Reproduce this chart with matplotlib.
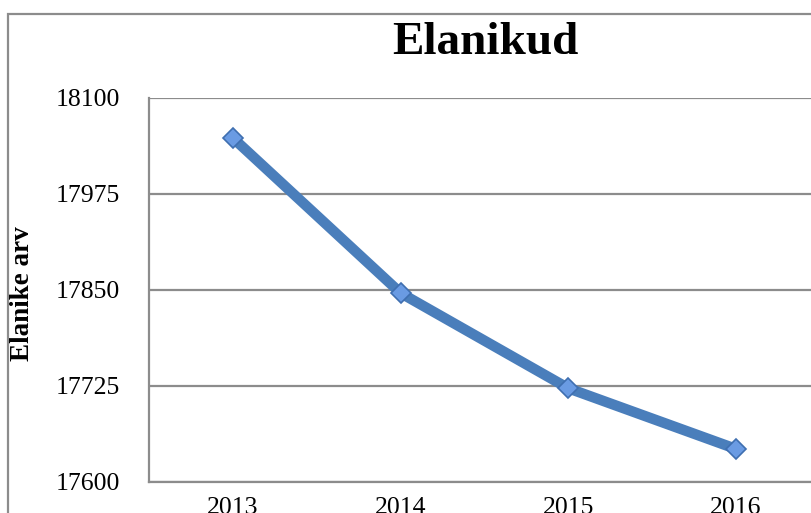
import matplotlib
matplotlib.use("Agg")
import matplotlib.pyplot as plt
from matplotlib.patches import Rectangle

years = ["2013", "2014", "2015", "2016"]
residents = [18048, 17846, 17722, 17643]
y_ticks = [17600, 17725, 17850, 17975, 18100]

plt.rcParams['font.family'] = ['Liberation Serif', 'DejaVu Serif']

W, H = 812, 513
fig = plt.figure(figsize=(W / 100, H / 100), dpi=100)
fig.patch.set_facecolor('white')

# outer chart border (cut off right/bottom)
fig.patches.append(Rectangle((8 / W, -0.2), 2.0, (H - 14) / H + 0.2,
                             transform=fig.transFigure, fill=False,
                             edgecolor='#8c8c8c', linewidth=1.6))

left, right = 149 / W, 820 / W
top, bottom = 1 - 98 / H, 1 - 482 / H
ax = fig.add_axes([left, bottom, right - left, top - bottom])

x = list(range(len(years)))
ax.plot(x, residents, color='#4a7ebb', linewidth=7.5, solid_capstyle='butt',
        marker='D', markersize=10.5, markerfacecolor='#6a9be3',
        markeredgecolor='#3f6fb0', markeredgewidth=1.2, zorder=3)

ax.set_xlim(-0.5, 3.5)
ax.set_ylim(17600, 18100)
ax.set_yticks(y_ticks)
ax.set_yticklabels([str(v) for v in y_ticks], fontsize=18.5)
ax.set_xticks(x)
ax.set_xticklabels(years, fontsize=18.5)
ax.tick_params(axis='y', length=0, pad=21)
ax.tick_params(axis='x', length=0, pad=11)

ax.grid(axis='y', color='#8c8c8c', linewidth=1.6)
ax.set_axisbelow(True)
for s in ['top', 'right']:
    ax.spines[s].set_visible(False)
for s in ['left', 'bottom']:
    ax.spines[s].set_color('#8c8c8c')
    ax.spines[s].set_linewidth(1.6)

fig.text(485 / W, 1 - 43 / H, "Elanikud", ha='center', va='center',
         fontsize=34, fontweight='bold')
fig.text(23 / W, 1 - 294 / H, "Elanike arv", ha='center', va='center',
         rotation=90, fontsize=19.5, fontweight='bold')

fig.savefig("out.png", dpi=100)
